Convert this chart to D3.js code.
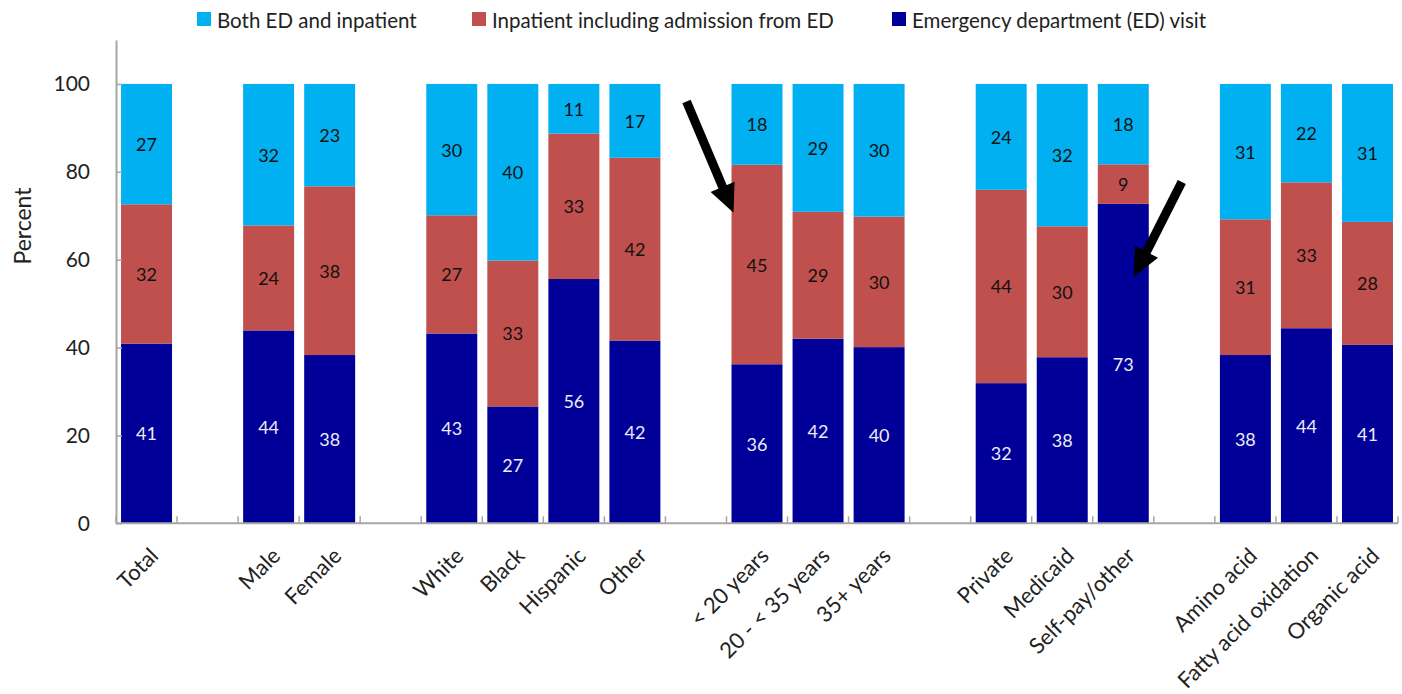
<!DOCTYPE html>
<html>
<head>
<meta charset="utf-8">
<script src="https://cdn.jsdelivr.net/npm/d3@7"></script>
<style>
  body { margin: 0; background: #fff; }
  svg { font-family: Lato, 'Open Sans', sans-serif; }
</style>
</head>
<body>
<div id="chart"></div>
<script>
// categories, null = empty slot between groups
const categories = ['Total', null, 'Male', 'Female', null, 'White', 'Black', 'Hispanic', 'Other', null,
  '< 20 years', '20 - < 35 years', '35+ years', null, 'Private', 'Medicaid', 'Self-pay/other', null,
  'Amino acid', 'Fatty acid oxidation', 'Organic acid'];
const edVisit = [40.9, null, 43.9, 38.3, null, 43.2, 26.6, 55.6, 41.6, null, 36.2, 42.0, 40.1, null, 31.9, 37.8, 72.7, null, 38.3, 44.4, 40.6];
const inpatient = [31.7, null, 23.9, 38.4, null, 26.9, 33.2, 33.1, 41.6, null, 45.4, 28.9, 29.7, null, 44.0, 29.8, 9.0, null, 30.9, 33.2, 28.0];
const bothEdInp = [27.4, null, 32.2, 23.3, null, 29.9, 40.2, 11.3, 16.8, null, 18.4, 29.1, 30.2, null, 24.1, 32.4, 18.3, null, 30.8, 22.4, 31.4];
const yTicks = [0, 20, 40, 60, 80, 100];

const seriesNames = ['Emergency department (ED) visit', 'Inpatient including admission from ED', 'Both ED and inpatient'];
const legendOrder = ['Both ED and inpatient', 'Inpatient including admission from ED', 'Emergency department (ED) visit'];
const colors = {
  'Emergency department (ED) visit': '#000099',
  'Inpatient including admission from ED': '#C0504D',
  'Both ED and inpatient': '#00B0F0'
};
const labelColors = {
  'Emergency department (ED) visit': '#ececf6',
  'Inpatient including admission from ED': '#111',
  'Both ED and inpatient': '#111'
};

// arrows: category, tail/tip as [px offset from bar left, percent]
const arrows = [
  { cat: '< 20 years', tail: [-45, 96], tip: [2, 70.7] },
  { cat: 'Self-pay/other', tail: [84, 77.7], tip: [36, 56.1] }
];

const width = 1402, height = 694;
const plot = { left: 116, right: 1398, top: 40, bottom: 523.3 };

const svg = d3.select('#chart').append('svg')
  .attr('width', width)
  .attr('height', height);

const rows = [];
categories.forEach((c, i) => {
  if (c === null) return;
  rows.push({
    idx: i, cat: c,
    [seriesNames[0]]: edVisit[i],
    [seriesNames[1]]: inpatient[i],
    [seriesNames[2]]: bothEdInp[i]
  });
});

const x = d3.scaleBand()
  .domain(d3.range(categories.length))
  .range([plot.left, plot.right])
  .paddingInner(0.165)
  .paddingOuter(0.0825);

const y = d3.scaleLinear()
  .domain([0, 110])
  .range([plot.bottom, plot.top]);

const stack = d3.stack().keys(seriesNames);
const stacked = stack(rows);

const layers = svg.selectAll('g.layer')
  .data(stacked)
  .enter()
  .append('g')
  .attr('class', 'layer')
  .attr('fill', d => colors[d.key]);

layers.selectAll('rect')
  .data(d => d)
  .enter()
  .append('rect')
  .attr('x', d => x(d.data.idx))
  .attr('width', x.bandwidth())
  .attr('y', d => y(d[1]))
  .attr('height', d => y(d[0]) - y(d[1]));

// value labels
stacked.forEach(layer => {
  svg.append('g')
    .selectAll('text')
    .data(layer)
    .enter()
    .append('text')
    .attr('x', d => x(d.data.idx) + x.bandwidth() / 2)
    .attr('y', d => (y(d[0]) + y(d[1])) / 2)
    .attr('text-anchor', 'middle')
    .attr('dominant-baseline', 'central')
    .attr('font-size', 18)
    .attr('fill', labelColors[layer.key])
    .text(d => d3.format('.0f')(d[1] - d[0]));
});

// y axis
const yAxis = svg.append('g')
  .attr('transform', 'translate(' + plot.left + ',0)')
  .call(d3.axisLeft(y).tickValues(yTicks).tickSizeInner(-6).tickSizeOuter(0).tickPadding(26));
yAxis.select('.domain').attr('stroke', '#a6a6a6').attr('stroke-width', 2);
yAxis.selectAll('.tick line').attr('stroke', '#a6a6a6').attr('stroke-width', 1.5);
yAxis.selectAll('.tick text')
  .attr('font-size', 21)
  .attr('fill', '#222')
  .attr('font-family', 'Lato, sans-serif');

svg.append('text')
  .attr('transform', 'translate(31,226)rotate(-90)')
  .attr('text-anchor', 'middle')
  .attr('font-size', 23)
  .attr('fill', '#222')
  .text('Percent');

// x axis with ticks between slots
const step = x.step();
const xAxis = svg.append('g');
xAxis.append('line')
  .attr('x1', plot.left).attr('x2', plot.right)
  .attr('y1', plot.bottom).attr('y2', plot.bottom)
  .attr('stroke', '#a6a6a6').attr('stroke-width', 2);
xAxis.selectAll('line.tick')
  .data(d3.range(categories.length + 1))
  .enter()
  .append('line')
  .attr('class', 'tick')
  .attr('x1', i => plot.left + i * step).attr('x2', i => plot.left + i * step)
  .attr('y1', plot.bottom).attr('y2', plot.bottom - 7)
  .attr('stroke', '#a6a6a6').attr('stroke-width', 1.5);

xAxis.selectAll('text')
  .data(rows)
  .enter()
  .append('text')
  .attr('transform', d => 'translate(' + (x(d.idx) + x.bandwidth() / 2 + 2) + ',546)rotate(-45)')
  .attr('text-anchor', 'end')
  .attr('dy', '0.72em')
  .attr('font-size', 22)
  .attr('fill', '#222')
  .text(d => d.cat);

// legend
const legendX = [197, 472, 892];
const legend = svg.append('g');
legendOrder.forEach((name, i) => {
  legend.append('rect')
    .attr('x', legendX[i]).attr('y', 12)
    .attr('width', 14).attr('height', 14)
    .attr('fill', colors[name]);
  legend.append('text')
    .attr('x', legendX[i] + 20).attr('y', 19.5)
    .attr('dominant-baseline', 'central')
    .attr('font-size', 20.5)
    .attr('fill', '#222')
    .text(name);
});

// arrows
arrows.forEach(a => {
  const i = categories.indexOf(a.cat);
  const x0 = x(i) + a.tail[0], y0 = y(a.tail[1]);
  const x1 = x(i) + a.tip[0], y1 = y(a.tip[1]);
  const len = Math.hypot(x1 - x0, y1 - y0);
  const ux = (x1 - x0) / len, uy = (y1 - y0) / len;
  const headLen = 28, headHalf = 13;
  const bx = x1 - ux * headLen, by = y1 - uy * headLen;
  svg.append('line')
    .attr('x1', x0).attr('y1', y0)
    .attr('x2', bx + ux * 2).attr('y2', by + uy * 2)
    .attr('stroke', '#000').attr('stroke-width', 9);
  svg.append('polygon')
    .attr('points', [
      [x1, y1],
      [bx - uy * headHalf, by + ux * headHalf],
      [bx + uy * headHalf, by - ux * headHalf]
    ].map(p => p.join(',')).join(' '))
    .attr('fill', '#000');
});
</script>
</body>
</html>
